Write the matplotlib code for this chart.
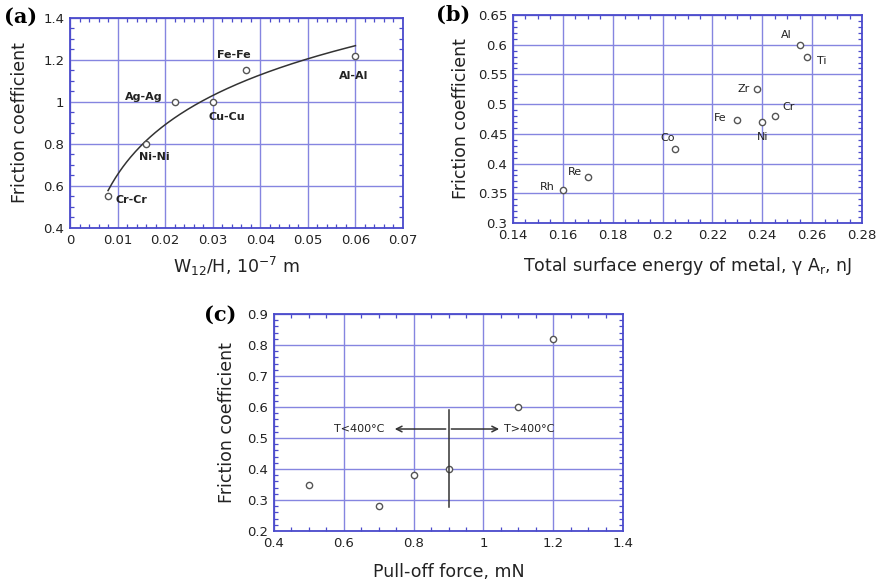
import numpy as np
import matplotlib
matplotlib.use("Agg")
import matplotlib.pyplot as plt
from matplotlib.ticker import MultipleLocator, FuncFormatter

plt.rcParams['font.family'] = ['DejaVu Sans']

# ---- Panel (a) data ----
a_labels = ["Cr-Cr", "Ni-Ni", "Ag-Ag", "Cu-Cu", "Fe-Fe", "Al-Al"]
a_x = [0.008, 0.016, 0.022, 0.030, 0.037, 0.060]
a_y = [0.55, 0.80, 1.00, 1.00, 1.15, 1.22]
a_lab_pos = [(0.0095, 0.533, 'left'), (0.0177, 0.74, 'center'), (0.0195, 1.025, 'right'),
             (0.033, 0.93, 'center'), (0.0345, 1.225, 'center'), (0.0597, 1.125, 'center')]

# ---- Panel (b) data ----
b_labels = ["Rh", "Re", "Co", "Fe", "Zr", "Ni", "Cr", "Al", "Ti"]
b_x = [0.160, 0.170, 0.205, 0.230, 0.238, 0.240, 0.245, 0.255, 0.258]
b_y = [0.355, 0.378, 0.425, 0.474, 0.525, 0.470, 0.480, 0.600, 0.580]
b_lab_pos = [(0.1538, 0.361), (0.1647, 0.386), (0.202, 0.443), (0.223, 0.477),
             (0.2327, 0.526), (0.240, 0.445), (0.2507, 0.495), (0.2495, 0.617), (0.264, 0.573)]

# ---- Panel (c) data ----
c_x = [0.5, 0.7, 0.8, 0.9, 1.1, 1.2]
c_y = [0.35, 0.28, 0.38, 0.40, 0.60, 0.82]

GRID = '#8585e0'
SPINE = '#4a4acc'
TXT = '#222222'
LABEL_FS = 12.5
TICK_FS = 9.5

fig = plt.figure(figsize=(8.8, 5.84), dpi=100)
W, H = 880, 584


def add_ax(l, r, t, b):
    return fig.add_axes([l / W, 1 - b / H, (r - l) / W, (b - t) / H])


def fmt(v, pos):
    return ('%.3f' % v).rstrip('0').rstrip('.')


def style(ax, xmaj, xmin, ymaj, ymin):
    ax.xaxis.set_major_locator(MultipleLocator(xmaj))
    ax.xaxis.set_minor_locator(MultipleLocator(xmin))
    ax.yaxis.set_major_locator(MultipleLocator(ymaj))
    ax.yaxis.set_minor_locator(MultipleLocator(ymin))
    ax.grid(True, which='major', color=GRID, lw=1.0)
    ax.set_axisbelow(True)
    for s in ax.spines.values():
        s.set_color(SPINE)
        s.set_linewidth(1.3)
    ax.tick_params(which='both', direction='in', top=True, right=True, color=SPINE,
                   labelsize=TICK_FS, labelcolor=TXT, pad=4)
    ax.tick_params(which='major', length=0)
    ax.tick_params(which='minor', length=3, width=0.9)
    ax.xaxis.set_major_formatter(FuncFormatter(fmt))
    ax.yaxis.set_major_formatter(FuncFormatter(fmt))


MK = dict(mfc='white', mec='#555555', ms=4.5, mew=1.0, ls='none', marker='o')

# Panel (a)
axa = add_ax(70, 403, 18, 228)
style(axa, 0.01, 0.002, 0.2, 0.05)
axa.set_xlim(0, 0.07)
axa.set_ylim(0.4, 1.4)
coef = np.polyfit(np.log(a_x), a_y, 1)
xf = np.linspace(min(a_x), max(a_x), 200)
axa.plot(xf, np.polyval(coef, np.log(xf)), color='#333333', lw=1.1)
axa.plot(a_x, a_y, **MK)
for lab, (tx, ty, ha) in zip(a_labels, a_lab_pos):
    axa.text(tx, ty, lab, ha=ha, va='center', fontsize=8, fontweight='bold', color=TXT)
axa.set_ylabel('Friction coefficient', fontsize=LABEL_FS, color=TXT, labelpad=10)
axa.set_xlabel(r'W$_{12}$/H, 10$^{-7}$ m', fontsize=LABEL_FS, color=TXT, labelpad=6)

# Panel (b)
axb = add_ax(513, 862, 15, 223)
style(axb, 0.02, 0.005, 0.05, 0.01)
axb.set_xlim(0.14, 0.28)
axb.set_ylim(0.3, 0.65)
axb.plot(b_x, b_y, **MK)
for lab, (tx, ty) in zip(b_labels, b_lab_pos):
    axb.text(tx, ty, lab, ha='center', va='center', fontsize=8, color=TXT)
axb.set_ylabel('Friction coefficient', fontsize=LABEL_FS, color=TXT, labelpad=6)
axb.set_xlabel(r'Total surface energy of metal, γ A$_\mathrm{r}$, nJ', fontsize=LABEL_FS,
               color=TXT, labelpad=10)

# Panel (c)
axc = add_ax(274, 623, 314, 531)
style(axc, 0.2, 0.05, 0.1, 0.02)
axc.set_xlim(0.4, 1.4)
axc.set_ylim(0.2, 0.9)
axc.plot(c_x, c_y, **MK)
axc.plot([0.9, 0.9], [0.277, 0.59], color='#333333', lw=1.1)
axc.annotate('', xy=(0.738, 0.529), xytext=(0.9, 0.529),
             arrowprops=dict(arrowstyle='->', color='#333333', lw=1.1))
axc.annotate('', xy=(1.053, 0.529), xytext=(0.9, 0.529),
             arrowprops=dict(arrowstyle='->', color='#333333', lw=1.1))
axc.text(0.715, 0.529, 'T<400°C', ha='right', va='center', fontsize=8, color=TXT)
axc.text(1.06, 0.529, 'T>400°C', ha='left', va='center', fontsize=8, color=TXT)
axc.set_ylabel('Friction coefficient', fontsize=LABEL_FS, color=TXT, labelpad=8)
axc.set_xlabel('Pull-off force, mN', fontsize=LABEL_FS, color=TXT, labelpad=10)

# Panel letters
fig.text(4 / W, 1 - 17 / H, '(a)', fontsize=15, fontweight='bold', family='DejaVu Serif', va='center')
fig.text(436 / W, 1 - 15 / H, '(b)', fontsize=15, fontweight='bold', family='DejaVu Serif', va='center')
fig.text(204 / W, 1 - 315 / H, '(c)', fontsize=15, fontweight='bold', family='DejaVu Serif', va='center')

fig.savefig('out.png', dpi=100)
